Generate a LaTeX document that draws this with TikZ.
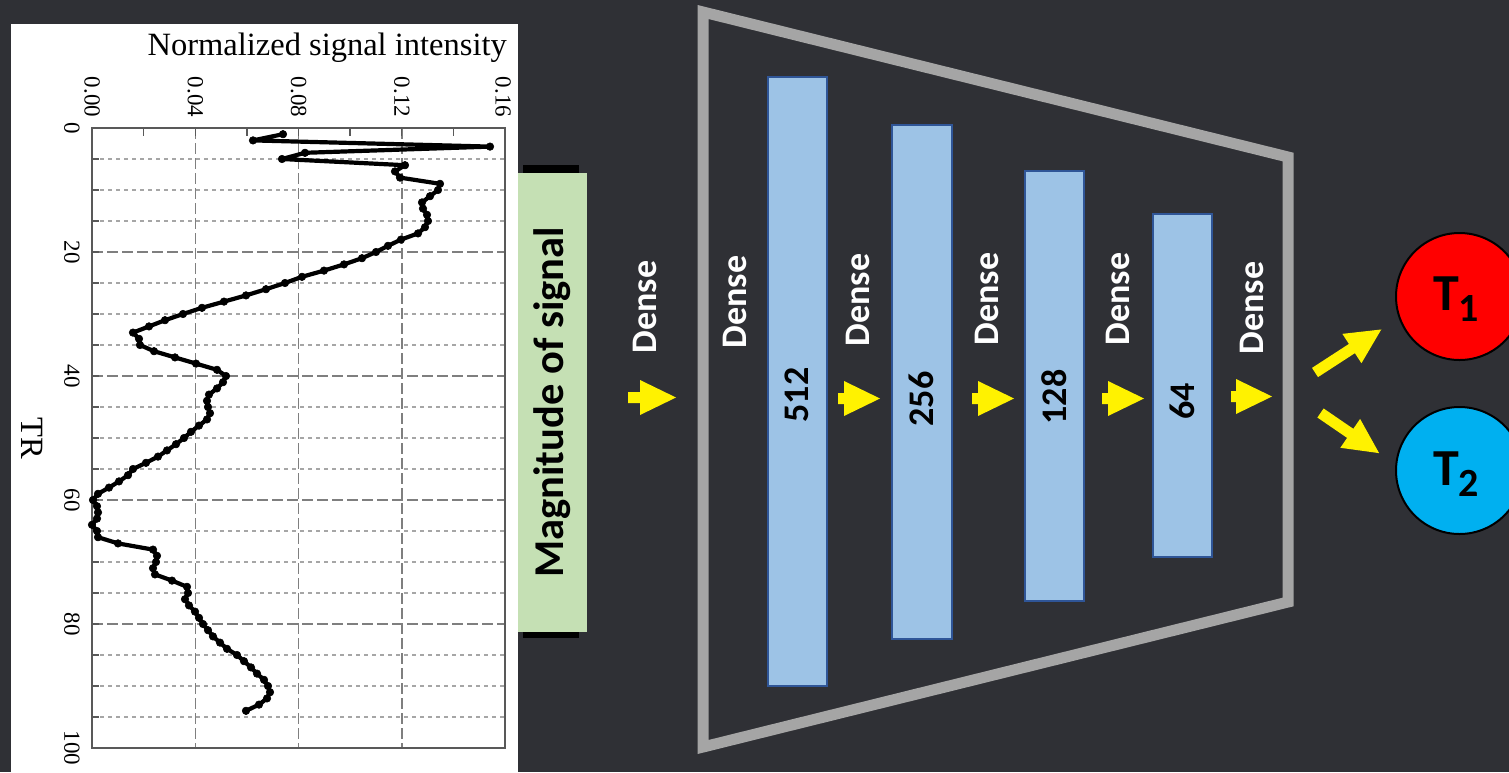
\documentclass[tikz,border=0pt]{standalone}
\usepackage{fontspec}
\newfontfamily\calfont{Carlito}
\newfontfamily\serfont{Liberation Serif}
\definecolor{bg}{HTML}{2F3035}
\definecolor{trapgray}{HTML}{A5A5A5}
\definecolor{barfill}{HTML}{9DC3E6}
\definecolor{barborder}{HTML}{2F5597}
\definecolor{magfill}{HTML}{C5E0B4}
\definecolor{tone}{HTML}{FF0000}
\definecolor{ttwo}{HTML}{00B0F0}
\definecolor{gridmaj}{HTML}{7F7F7F}
\definecolor{gridmin}{HTML}{A6A6A6}
\definecolor{framecol}{HTML}{595959}
\newcommand\harrow[3]{\fill[yellow] (#1,#2-5.5) -- ++(#3,0) -- ++(0,-12) -- ++(36,17.5) -- ++(-36,17.5) -- ++(0,-12) -- ++(-#3,0) -- cycle;}
\newcommand\darrow[4]{\fill[yellow, shift={(#1,#2)}, rotate=#3] (0,-5.5) -- (#4-35,-5.5) -- (#4-35,-17.5) -- (#4,0) -- (#4-35,17.5) -- (#4-35,5.5) -- (0,5.5) -- cycle;}
\begin{document}
\begin{tikzpicture}[x=1pt,y=-1pt,
  ticklab/.style={font=\serfont\fontsize{23}{23}\selectfont, inner sep=0, rotate=-90},
  axlab/.style={font=\serfont\fontsize{32.5}{32.5}\selectfont, inner sep=0},
  dense/.style={font=\calfont\bfseries\fontsize{36}{36}\selectfont, text=white, rotate=90, inner sep=0},
  barnum/.style={font=\calfont\bfseries\fontsize{36}{36}\selectfont, text=black, rotate=90, inner sep=0},
  bar/.style={draw=barborder, fill=barfill, line width=2.2, inner sep=0},
  majorgrid/.style={draw=gridmaj, line width=1.5, dash pattern=on 11pt off 4pt},
  minorgrid/.style={draw=gridmin, line width=1.2, dash pattern=on 4pt off 4pt},
  tcircle/.style={circle, draw=black, line width=2, minimum size=127, inner sep=0},
  tlab/.style={inner sep=0, anchor=base, text=black, font=\calfont\bfseries\fontsize{52}{52}\selectfont}
]
\useasboundingbox (0,0) rectangle (1509,772);
\fill[bg] (0,0) rectangle (1509,772);
% ---------- plot panel ----------
\fill[white] (11,24) rectangle (518,772);
\foreach \t in {5,10,15,25,30,35,45,50,55,65,70,75,85,90,95}
  \draw[minorgrid] (92,{128+6.2*\t}) -- (505,{128+6.2*\t});
\foreach \t in {20,40,60,80}
  \draw[majorgrid] (92,{128+6.2*\t}) -- (505,{128+6.2*\t});
\foreach \k in {1,2,3}
  \draw[majorgrid] ({92+103.25*\k},128) -- ({92+103.25*\k},748);
\foreach \k in {1,...,7}
  \draw[framecol, line width=1.4] ({92+51.625*\k},128) -- ({92+51.625*\k},136);
\foreach \t in {5,10,...,95}
  \draw[framecol, line width=1.2] (92,{128+6.2*\t}) -- (99,{128+6.2*\t});
\draw[framecol, line width=1.6] (92,128) rectangle (505,748);
\foreach \t in {0,20,40,60,80,100}
  \node[ticklab] (tr\t) at (72,{128+6.2*\t}) {\t};
\node[ticklab] (i0) at (92,97) {0.00};
\node[ticklab] (i1) at (195.25,97) {0.04};
\node[ticklab] (i2) at (298.5,97) {0.08};
\node[ticklab] (i3) at (401.75,97) {0.12};
\node[ticklab] (i4) at (503,97) {0.16};
\node[axlab, anchor=base east] (ylab) at (507,55) {Normalized signal intensity};
\node[axlab, rotate=-90] (xlab) at (32,438) {TR};
\begin{scope}[shift={(0,128)}, y=-6.2pt]
\draw[black, line width=4.2, line join=round, mark=*, mark size=3.8pt, mark options={fill=black, line width=0.5}]
 plot coordinates {(283,1)(253,2)(490,3)(305,4)(282,5)(405,6)(395,7)(400,8)(440,9)(438,10)(430,11)(422,12)(423,13)(427,14)(428,15)(425,16)(418,17)(401,18)(388,19)(376,20)(362,21)(344,22)(324,23)(302,24)(285,25)(266,26)(246,27)(224,28)(202,29)(183,30)(165,31)(149,32)(133,33)(139,34)(140,35)(154,36)(175,37)(196,38)(217,39)(226,40)(223,41)(217,42)(209,43)(207,44)(208,45)(210,46)(207,47)(199,48)(191,49)(184,50)(176,51)(167,52)(158,53)(146,54)(133,55)(128,56)(119,57)(109,58)(98,59)(93,60)(97,61)(98,62)(97,63)(92,64)(97,65)(98,66)(118,67)(153,68)(157,69)(156,70)(153,71)(155,72)(172,73)(187,74)(188,75)(185,76)(189,77)(195,78)(199,79)(203,80)(208,81)(213,82)(220,83)(227,84)(237,85)(244,86)(251,87)(257,88)(264,89)(268,90)(270,91)(267,92)(259,93)(246,94)};
\end{scope}
% ---------- input block ----------
\fill[black] (523,165) rectangle (579,638);
\node[fill=magfill, rotate=90, minimum width=459, minimum height=69, inner sep=0,
      font=\calfont\bfseries\fontsize{42.5}{42.5}\selectfont] (mag) at (552.5,402.5) {Magnitude of signal};
% ---------- network ----------
\draw[trapgray, line width=11, line join=miter] (703,12) -- (1288,157) -- (1288,602) -- (703,747) -- cycle;
\node[bar, minimum width=59, minimum height=609] (b1) at (797.5,381.5) {};
\node[bar, minimum width=60, minimum height=514] (b2) at (922,382) {};
\node[bar, minimum width=59, minimum height=430] (b3) at (1054.5,386) {};
\node[bar, minimum width=59, minimum height=343] (b4) at (1182.5,385.5) {};
\node[barnum] (n1) at (797,395) {512};
\node[barnum] (n2) at (921,399) {256};
\node[barnum] (n3) at (1054,397) {128};
\node[barnum] (n4) at (1182,401) {64};
\node[dense] (d0) at (645,307) {Dense};
\node[dense] (d1) at (735,302) {Dense};
\node[dense] (d2) at (858,300) {Dense};
\node[dense] (d3) at (987,299) {Dense};
\node[dense] (d4) at (1118,299) {Dense};
\node[dense] (d5) at (1252,308) {Dense};
\harrow{628}{397.5}{12}
\harrow{838}{398.5}{6}
\harrow{972}{398.5}{6}
\harrow{1102}{398.5}{6}
\harrow{1231}{396.5}{5}
% ---------- outputs ----------
\darrow{1315}{372.5}{33}{79}
\darrow{1320.5}{413}{-34.4}{71}
\node[tcircle, fill=tone] (t1) at (1459.5,296.5) {};
\node[tcircle, fill=ttwo] (t2) at (1459.5,470.5) {};
\node[tlab] (t1lab) at (1456,310.7) {T\raisebox{-11pt}{\fontsize{40}{40}\selectfont 1}};
\node[tlab] (t2lab) at (1456,485) {T\raisebox{-11pt}{\fontsize{40}{40}\selectfont 2}};
\end{tikzpicture}
\end{document}
